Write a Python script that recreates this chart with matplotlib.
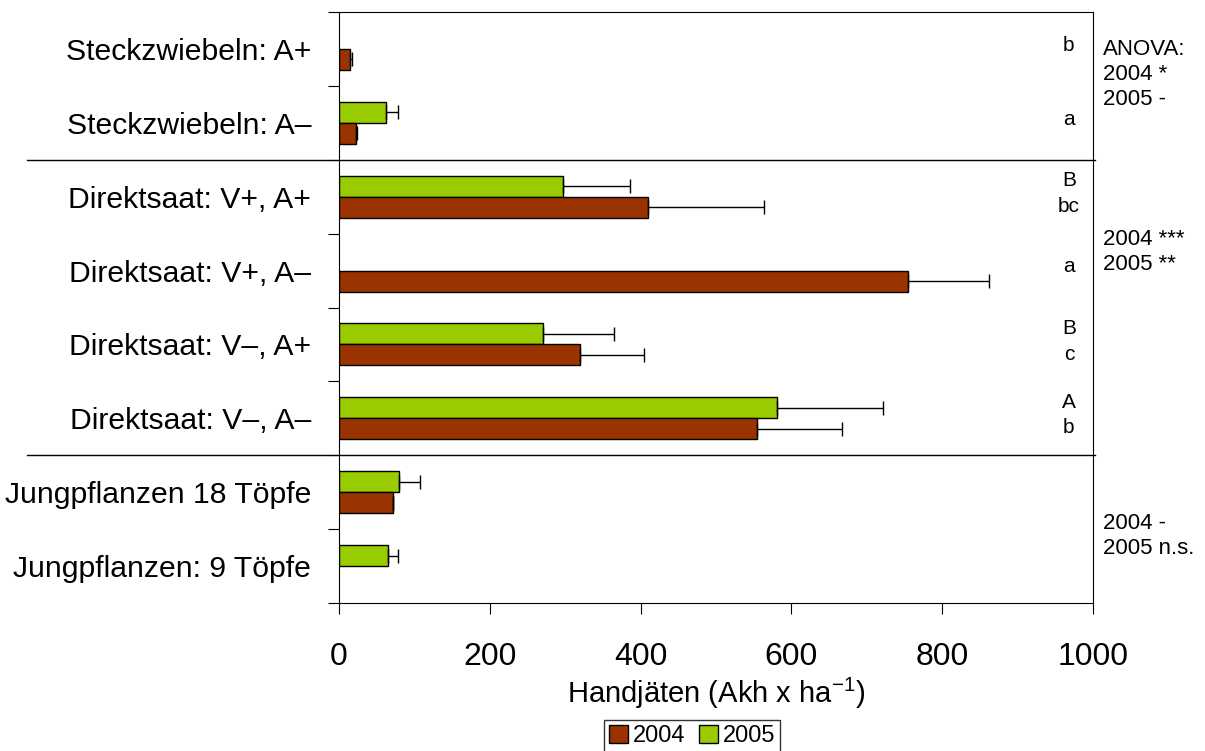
import numpy as np
import matplotlib
matplotlib.use("Agg")
import matplotlib.pyplot as plt
from matplotlib.patches import Patch
from matplotlib.transforms import blended_transform_factory

plt.rcParams['font.family'] = ['Liberation Sans', 'DejaVu Sans']
plt.rcParams['mathtext.fontset'] = 'custom'
plt.rcParams['mathtext.rm'] = 'Liberation Sans'

cats = ["Steckzwiebeln: A+", "Steckzwiebeln: A–", "Direktsaat: V+, A+",
        "Direktsaat: V+, A–", "Direktsaat: V–, A+", "Direktsaat: V–, A–",
        "Jungpflanzen 18 Töpfe", "Jungpflanzen: 9 Töpfe"]
v2004 = [15, 22, 410, 755, 320, 555, 71, np.nan]
e2004 = [2, 2, 153, 107, 84, 112, 1, np.nan]
v2005 = [np.nan, 62, 297, np.nan, 271, 581, 79, 65]
e2005 = [np.nan, 16, 89, np.nan, 94, 141, 29, 13]
let2004 = ["b", "a", "bc", "a", "c", "b", "", ""]
let2005 = ["", "", "B", "", "B", "A", "", ""]
anova = [(0.34, "ANOVA:\n2004 *\n2005 -"),
         (2.75, "2004 ***\n2005 **"),
         (6.59, "2004 -\n2005 n.s.")]

red = "#993300"
green = "#99CC00"

fig = plt.figure(figsize=(12.05, 7.51), dpi=100)
ax = fig.add_axes([339/1205, 1-603/751, 754/1205, 591/751])

y = np.arange(len(cats))
h = 0.285
ax.barh(y - h/2, v2005, height=h, color=green, edgecolor="black", linewidth=1)
ax.barh(y + h/2, v2004, height=h, color=red, edgecolor="black", linewidth=1)
ax.errorbar(v2005, y - h/2, xerr=[np.zeros(len(y)), e2005], fmt="none",
            ecolor="black", elinewidth=1, capsize=5)
ax.errorbar(v2004, y + h/2, xerr=[np.zeros(len(y)), e2004], fmt="none",
            ecolor="black", elinewidth=1, capsize=5)

ax.set_xlim(0, 1000)
ax.set_ylim(len(cats) - 0.5, -0.5)
ax.set_xticks(np.arange(0, 1001, 200))
ax.tick_params(axis="x", labelsize=23, length=8, pad=20)
ax.set_yticks(np.arange(-0.5, len(cats), 1))
ax.set_yticklabels([])
ax.set_yticks(y, minor=True)
ax.set_yticklabels(cats, minor=True, fontsize=21.7)
ax.tick_params(axis="y", which="major", length=8)
ax.tick_params(axis="y", which="minor", length=0, pad=20)
ax.set_xlabel("Handjäten (Akh x ha$^{\\mathrm{-1}}$)", fontsize=21, labelpad=3)

# Gruppentrenner
tr = blended_transform_factory(ax.transAxes, ax.transData)
for yy in [1.5, 5.5]:
    ax.plot([-0.414, 1.003], [yy, yy], color="black", lw=1, transform=tr, clip_on=False)

# Buchstaben der Signifikanz
for i in range(len(cats)):
    if let2005[i]:
        ax.text(968, i - 0.22, let2005[i], ha="center", va="center", fontsize=15)
        ax.text(968, i + 0.13, let2004[i], ha="center", va="center", fontsize=15)
    elif let2004[i]:
        ax.text(968, i - 0.05, let2004[i], ha="center", va="center", fontsize=15)

for yy, s in anova:
    ax.text(1.013, yy, s, transform=tr, ha="left", va="center", fontsize=16, linespacing=1.25)

handles = [Patch(facecolor=red, edgecolor="black", label="2004"),
           Patch(facecolor=green, edgecolor="black", label="2005")]
fig.legend(handles=handles, loc="upper center", bbox_to_anchor=(692/1205, 1-720/751),
           ncol=2, fontsize=17, frameon=True, fancybox=False, edgecolor="black",
           handlelength=0.8, handleheight=0.8, handletextpad=0.2, columnspacing=0.6,
           borderpad=0.2, borderaxespad=0)

fig.savefig("out.png", dpi=100)
